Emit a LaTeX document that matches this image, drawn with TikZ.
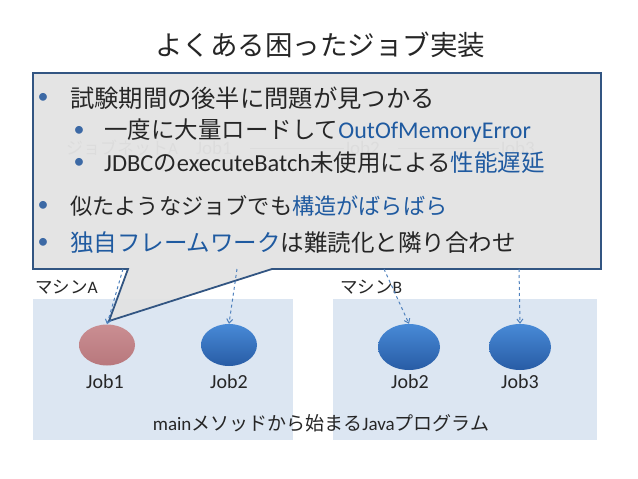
\documentclass[tikz,border=0pt]{standalone}
\usepackage{fontspec}
\setmainfont{Carlito}
\newfontfamily\cjk{Noto Sans CJK JP}
\usetikzlibrary{arrows.meta,shapes.geometric}
\definecolor{txt}{RGB}{38,38,38}
\definecolor{hl}{RGB}{31,90,160}
\definecolor{bul}{RGB}{60,105,165}
\definecolor{boxblue}{RGB}{220,230,242}
\definecolor{calfill}{RGB}{226,226,226}
\definecolor{calline}{RGB}{50,85,130}
\definecolor{arrowblue}{RGB}{79,129,189}
\definecolor{faintc}{RGB}{150,150,150}
\tikzset{
  cline/.style={anchor=west, inner sep=0pt, text=txt, font=\cjk\fontsize{23.5}{26}\selectfont},
  bullet/.style={anchor=center, inner sep=0pt, text=bul, font=\rmfamily\fontsize{22}{24}\selectfont},
  machbox/.style={fill=boxblue, draw=none, anchor=north west, inner sep=0pt},
  jobblue/.style={ellipse, draw=none, top color={rgb,255:red,72;green,138;blue,215}, bottom color={rgb,255:red,40;green,92;blue,165}},
  jobred/.style={ellipse, draw=none, top color={rgb,255:red,202;green,142;blue,146}, bottom color={rgb,255:red,184;green,120;blue,125}},
  joblabel/.style={text=txt, font=\rmfamily\fontsize{20}{22}\selectfont, inner sep=0pt},
  machlabel/.style={text=txt, font=\cjk\fontsize{17.5}{19}\selectfont, inner sep=0pt},
  faint/.style={text=faintc, inner sep=0pt},
  dasharrow/.style={draw=arrowblue, line width=1pt, dashed, -{Straight Barb[length=4pt,width=6pt]}}
}
\begin{document}
\begin{tikzpicture}[x=1pt,y=-1pt]
\useasboundingbox (0,0) rectangle (638,479);

% title
\node[text=txt, font=\cjk\fontsize{27.5}{30}\selectfont, inner sep=0pt] (title) at (320,45) {よくある困ったジョブ実装};

% machine boxes
\node[machbox, minimum width=260, minimum height=141] (mA) at (33,299) {};
\node[machbox, minimum width=264, minimum height=141] (mB) at (333,299) {};
\node[machlabel, anchor=west] (lA) at (35,287) {マシン{\rmfamily A}};
\node[machlabel, anchor=west] (lB) at (340,287) {マシン{\rmfamily B}};

% jobs
\node[jobred, minimum width=56, minimum height=41] (e1) at (107,345) {};
\node[jobblue, minimum width=56, minimum height=42] (e2) at (229,345) {};
\node[jobblue, minimum width=62, minimum height=46] (e3) at (409,347) {};
\node[jobblue, minimum width=62, minimum height=46] (e4) at (520,347) {};
\node[joblabel] (t1) at (105,382) {Job1};
\node[joblabel] (t2) at (229,382) {Job2};
\node[joblabel] (t3) at (410,382) {Job2};
\node[joblabel] (t4) at (520,382) {Job3};
\node[text=txt, font=\cjk\fontsize{19}{21}\selectfont, inner sep=0pt] (main) at (321,423) {{\rmfamily main}メソッドから始まる{\rmfamily Java}プログラム};

% faint job net seen through the callout
\node[faint, font=\cjk\fontsize{17}{19}\selectfont] (jn) at (122,148) {ジョブネット{\rmfamily A}};
\node[faint, font=\rmfamily\fontsize{19}{21}\selectfont] (j1) at (214,148) {Job1};
\node[faint, font=\rmfamily\fontsize{19}{21}\selectfont] (j2) at (362,148) {Job2};
\node[faint, font=\rmfamily\fontsize{19}{21}\selectfont] (j3) at (517,148) {Job3};
\draw[faintc, line width=0.8pt] (j1.east) ++(18,0) -- (j2.west);
\draw[faintc, line width=0.8pt] (j2.east) ++(18,0) -- (j3.west);

% callout
\coordinate (c1) at (33,73);
\coordinate (c2) at (601,73);
\coordinate (c3) at (601,269);
\coordinate (c4) at (272,269);
\coordinate (tip) at (109,321);
\coordinate (c5) at (128,269);
\coordinate (c6) at (33,269);
\path[fill=calfill, fill opacity=0.92] (c1) -- (c2) -- (c3) -- (c4) -- (tip) -- (c5) -- (c6) -- cycle;
\draw[calline, line width=1.8pt, line join=miter] (c1) -- (c2) -- (c3) -- (c4) -- (tip) -- (c5) -- (c6) -- cycle;

% dashed arrows
\coordinate (s1) at (123,269);
\coordinate (s2) at (237,269);
\coordinate (s3) at (384,269);
\coordinate (s4) at (519,269);
\draw[dasharrow] (s1) -- (e1.north);
\draw[dasharrow] (s2) -- (e2.north);
\draw[dasharrow] (s3) -- (e3.north);
\draw[dasharrow] (s4) -- (e4.north);

% callout text
\node[bullet] (b1) at (43,98) {•};
\node[cline, font=\cjk\fontsize{24.3}{26}\selectfont] (l1) at (70,98) {試験期間の後半に問題が見つかる};
\node[bullet] (b2) at (79,131) {•};
\node[cline] (l2) at (104,131) {一度に大量ロードして\textcolor{hl}{\rmfamily\fontsize{24}{26}\selectfont OutOfMemoryError}};
\node[bullet] (b3) at (79,163) {•};
\node[cline] (l3) at (104,163) {{\rmfamily\fontsize{24.5}{26}\selectfont JDBC}の{\rmfamily\fontsize{24.5}{26}\selectfont executeBatch}未使用による\textcolor{hl}{性能遅延}};
\node[bullet] (b4) at (43,206) {•};
\node[cline, font=\cjk\fontsize{22.2}{26}\selectfont] (l4) at (70,206) {似たようなジョブでも\textcolor{hl}{構造がばらばら}};
\node[bullet] (b5) at (43,243) {•};
\node[cline] (l5) at (70,243) {\textcolor{hl}{独自フレームワーク}は難読化と隣り合わせ};
\end{tikzpicture}
\end{document}
